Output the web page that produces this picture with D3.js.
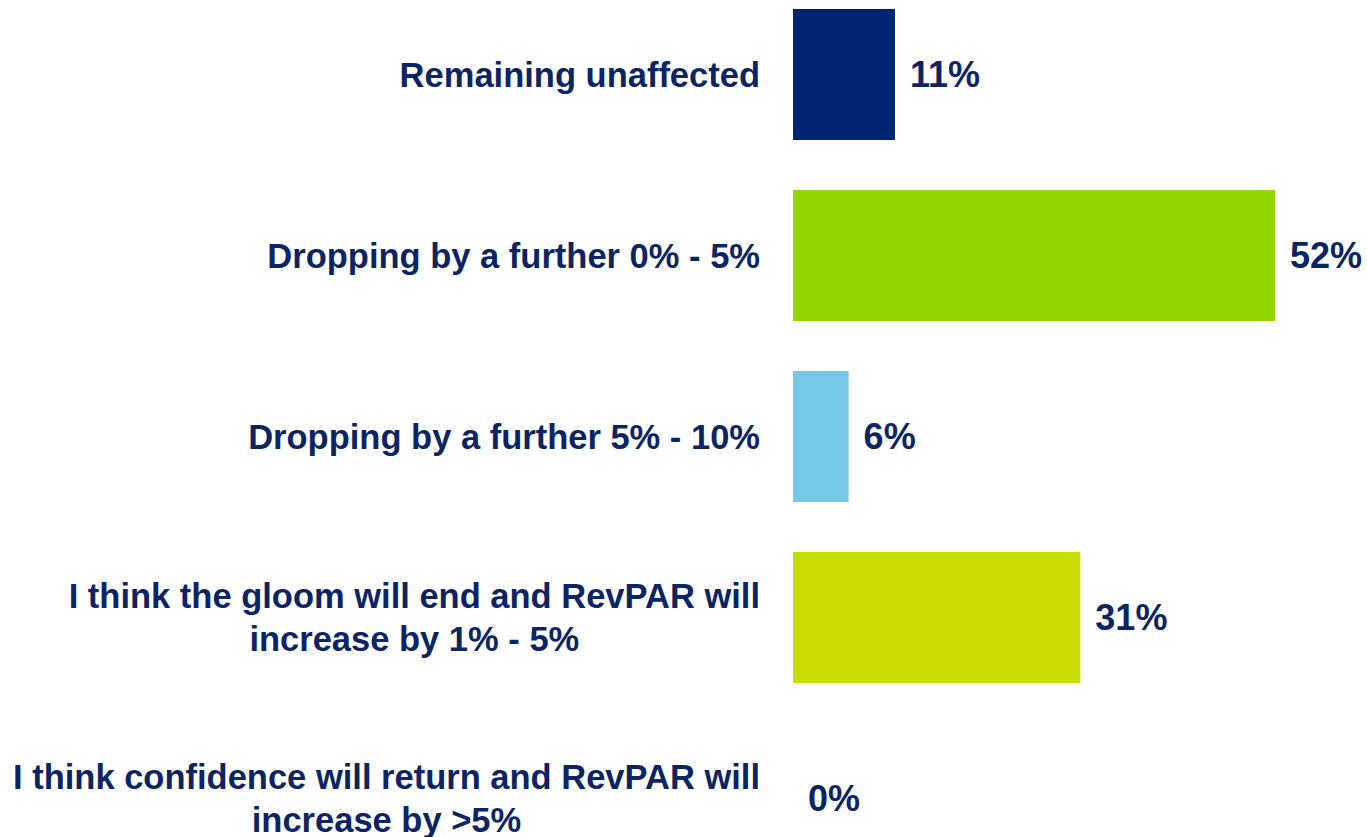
<!DOCTYPE html>
<html>
<head>
<meta charset="utf-8">
<script src="https://cdn.jsdelivr.net/npm/d3@7"></script>
<style>
  body { margin: 0; background: #fff; }
  svg { display: block; }
  text { font-family: "Liberation Sans", Arial, sans-serif; font-weight: bold; fill: #0b2463; }
</style>
</head>
<body>
<svg></svg>
<script>
var width = 1367,
    height = 837;

// chart data
var categories = [
    ["Remaining unaffected"],
    ["Dropping by a further 0% - 5%"],
    ["Dropping by a further 5% - 10%"],
    ["I think the gloom will end and RevPAR will", "increase by 1% - 5%"],
    ["I think confidence will return and RevPAR will", "increase by >5%"]
];
var values = [11, 52, 6, 31, 0];
var barColors = ["#002570", "#94d500", "#76c8e8", "#c8dc00", "#c8dc00"];

var svg = d3.select("svg")
    .attr("width", width)
    .attr("height", height);

var y = d3.scaleBand()
    .domain(d3.range(values.length))
    .range([-41, 914])
    .padding(0.276);

var x = d3.scaleLinear()
    .domain([0, 52])
    .range([793, 1275]);

var fontSize = 34.5,
    valueSize = 36,
    lineGap = 43,
    labelRight = 760;

// bars
svg.selectAll("rect.bar")
    .data(values)
    .enter().append("rect")
    .attr("class", "bar")
    .attr("x", x(0))
    .attr("y", function(d, i) { return y(i); })
    .attr("width", function(d) { return x(d) - x(0); })
    .attr("height", y.bandwidth())
    .style("fill", function(d, i) { return barColors[i]; });

// value labels
svg.selectAll("text.value")
    .data(values)
    .enter().append("text")
    .attr("class", "value")
    .attr("x", function(d) { return x(d) + 15; })
    .attr("y", function(d, i) { return y(i) + y.bandwidth() / 2; })
    .attr("dy", "0.36em")
    .style("font-size", valueSize + "px")
    .text(function(d) { return d + "%"; });

// category labels, multi-line ones centred as a block right-aligned to the bars
var labels = svg.selectAll("g.label")
    .data(categories)
    .enter().append("g")
    .attr("class", "label");

labels.each(function(lines, i) {
    var g = d3.select(this),
        cy = y(i) + y.bandwidth() / 2,
        top = cy - (lines.length - 1) * lineGap / 2;
    var t = g.selectAll("text")
        .data(lines)
        .enter().append("text")
        .attr("y", function(d, j) { return top + j * lineGap; })
        .attr("dy", "0.36em")
        .style("font-size", fontSize + "px")
        .text(function(d) { return d; });
    var w = d3.max(t.nodes(), function(n) { return n.getComputedTextLength(); });
    t.attr("x", labelRight - w / 2)
        .attr("text-anchor", "middle");
});
</script>
</body>
</html>
